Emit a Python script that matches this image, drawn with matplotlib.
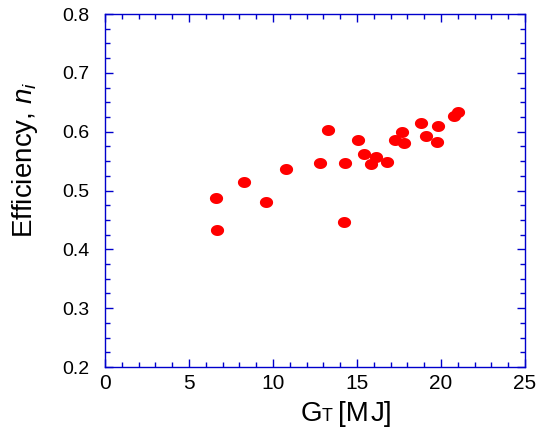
import matplotlib
matplotlib.use("Agg")
import matplotlib.pyplot as plt
import numpy as np
from matplotlib.path import Path
from matplotlib.ticker import MultipleLocator

gt = [6.59, 6.69, 8.27, 9.58, 10.79, 12.80, 13.27, 14.31, 14.21, 15.08, 15.40,
      15.81, 16.11, 16.81, 17.28, 17.68, 17.80, 18.79, 19.09, 19.74, 19.80, 20.77, 20.99]
eff = [0.487, 0.433, 0.515, 0.481, 0.537, 0.547, 0.602, 0.546, 0.447, 0.586, 0.562,
       0.545, 0.557, 0.549, 0.585, 0.599, 0.580, 0.614, 0.592, 0.583, 0.610, 0.626, 0.634]

plt.rcParams['font.family'] = ['Liberation Sans', 'DejaVu Sans']
plt.rcParams['mathtext.fontset'] = 'custom'
plt.rcParams['mathtext.rm'] = 'Liberation Sans'
plt.rcParams['mathtext.it'] = 'Liberation Sans:italic'

W, H = 545, 429
fig = plt.figure(figsize=(W/100, H/100), dpi=100)
ax = fig.add_axes([105/W, 62/H, 420/W, 353/H])

t = np.linspace(0, 2*np.pi, 60)
ell = Path(np.column_stack([1.2*np.cos(t), np.sin(t)]))
ax.plot(gt, eff, linestyle='none', marker=ell, markersize=9.5, color='#ff0000', markeredgewidth=0)

ax.set_xlim(0, 25)
ax.set_ylim(0.2, 0.8)
ax.xaxis.set_major_locator(MultipleLocator(5))
ax.xaxis.set_minor_locator(MultipleLocator(1))
ax.yaxis.set_major_locator(MultipleLocator(0.1))
ax.yaxis.set_minor_locator(MultipleLocator(0.025))
blue = '#0000cc'
for s in ax.spines.values():
    s.set_color(blue)
    s.set_linewidth(1.0)
ax.tick_params(which='both', direction='in', top=True, right=True, color=blue, labelcolor='black')
ax.tick_params(which='major', length=6, width=1)
ax.tick_params(which='minor', length=3.5, width=1)
ax.tick_params(axis='y', pad=11, labelsize=14)
ax.tick_params(axis='x', pad=5, labelsize=15)
ax.yaxis.set_major_formatter(matplotlib.ticker.FormatStrFormatter('%.1f'))

base = 1 - 421/H
fig.text(301/W, base, 'G', fontsize=20, ha='left', va='baseline')
fig.text(322/W, base, 'T', fontsize=13, ha='left', va='baseline')
fig.text(338/W, base, '[M', fontsize=20, ha='left', va='baseline')
fig.text(371/W, base, 'J]', fontsize=20, ha='left', va='baseline')
fig.text(25/W, 1-160/H, r'Efficiency, $n_i$', fontsize=20, ha='center', va='center', rotation=90)

fig.savefig('out.png', dpi=100)
